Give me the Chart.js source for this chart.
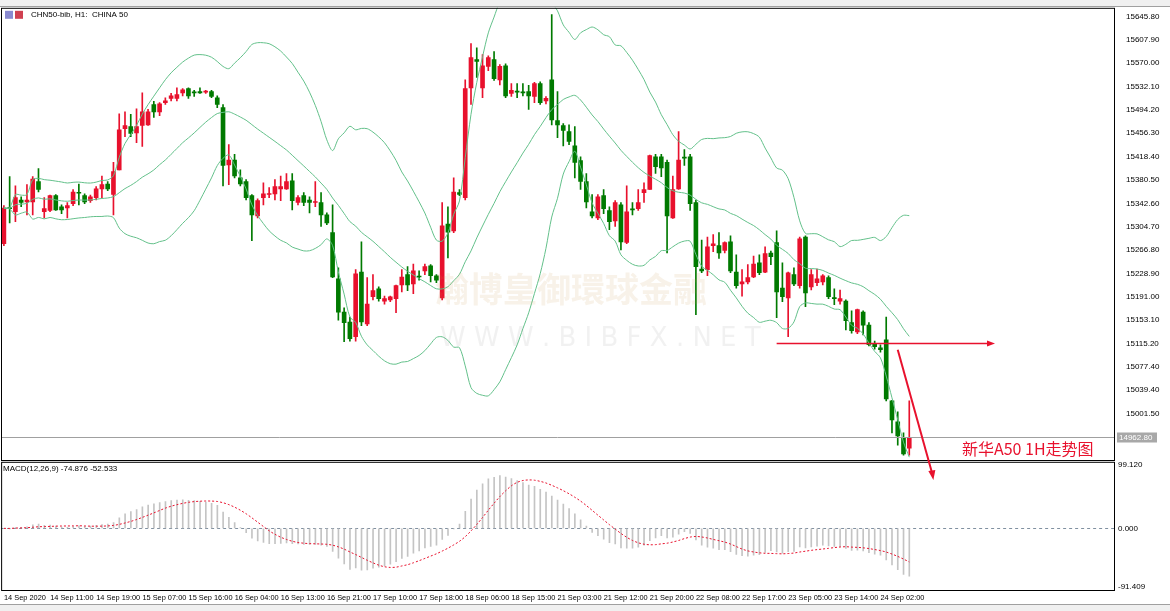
<!DOCTYPE html>
<html>
<head>
<meta charset="utf-8">
<script src="https://cdn.jsdelivr.net/npm/chart.js@4"></script>
<style>
  body { margin: 0; background: #fff; width: 1170px; height: 611px; overflow: hidden; position: relative; font-family: "Liberation Sans", sans-serif; }
  .pane { position: absolute; left: 0; }
  #footer { position: absolute; left: 0; top: 604px; width: 1170px; height: 7px; background: #f0f0f0; border-top: 1px solid #a0a0a0; }
</style>
</head>
<body>
<div class="pane" style="top:0;height:6px;width:1170px;background:#f0f0f0;border-bottom:1px solid #a0a0a0"></div>
<div class="pane" style="top:453px"><canvas id="macd" width="1170" height="151"></canvas></div>
<div class="pane" style="top:-1px;z-index:2"><canvas id="main" width="1170" height="486"></canvas></div>
<div id="footer"></div>
<script>
// CHINA 50, H1 candles (Chinese colours: red = up, green = down)
var opens = [15277,15335,15329,15348,15345,15345,15378,15329,15331,15355,15337,15335,15342,15360,15355,15347,15352,15366,15374,15357,
  15397,15464,15467,15457,15469,15470,15503,15491,15506,15513,15513,15522,15529,15523,15524,15523,15524,15514,15498,15405,
  15413,15384,15378,15355,15322,15352,15357,15358,15366,15366,15379,15344,15355,15348,15344,15344,15324,15295,15220,15166,
  15150,15126,15231,15147,15191,15204,15184,15186,15188,15210,15227,15212,15224,15233,15241,15225,15189,15309,15298,15360,
  15352,15530,15576,15530,15565,15576,15543,15566,15521,15524,15523,15524,15516,15537,15509,15543,15477,15469,15459,15436,
  15412,15378,15329,15319,15355,15331,15314,15340,15279,15333,15334,15360,15365,15418,15418,15409,15319,15366,15417,15418,
  15344,15236,15235,15274,15274,15266,15280,15231,15212,15215,15223,15246,15231,15262,15279,15205,15189,15227,15209,15288,
  15207,15214,15215,15222,15189,15184,15184,15149,15134,15166,15145,15114,15108,15121,15022,14988,14963,14945];
var highs = [15339,15386,15371,15353,15373,15386,15399,15352,15356,15357,15340,15344,15365,15374,15358,15356,15370,15387,15378,15409,
  15488,15491,15487,15496,15522,15495,15508,15506,15514,15521,15530,15529,15530,15526,15530,15526,15526,15517,15503,15438,
  15422,15397,15381,15357,15350,15376,15368,15381,15387,15391,15391,15355,15360,15353,15378,15360,15327,15340,15238,15173,
  15158,15235,15280,15222,15227,15207,15192,15192,15210,15235,15240,15244,15233,15244,15243,15227,15344,15337,15384,15365,
  15543,15602,15595,15584,15582,15589,15568,15569,15537,15537,15537,15534,15539,15540,15516,15649,15524,15472,15470,15467,
  15418,15391,15357,15357,15365,15337,15347,15344,15371,15344,15365,15376,15421,15422,15422,15413,15387,15459,15430,15422,
  15348,15283,15288,15292,15295,15280,15290,15259,15235,15243,15257,15259,15272,15265,15298,15246,15231,15238,15288,15290,
  15235,15236,15227,15225,15204,15202,15186,15168,15171,15168,15149,15119,15113,15158,15023,15004,14970,15022];
var lows = [15274,15311,15313,15337,15324,15324,15361,15319,15329,15331,15326,15319,15339,15340,15342,15344,15348,15352,15363,15324,
  15397,15451,15451,15441,15435,15469,15482,15485,15503,15509,15509,15517,15513,15516,15521,15521,15514,15498,15371,15373,
  15384,15371,15348,15282,15319,15340,15352,15348,15347,15365,15332,15340,15339,15327,15337,15305,15308,15222,15153,15118,
  15119,15119,15144,15144,15186,15184,15179,15183,15165,15199,15201,15196,15218,15227,15215,15214,15186,15254,15295,15355,
  15348,15503,15547,15514,15558,15542,15535,15514,15516,15514,15517,15495,15506,15503,15504,15470,15449,15436,15438,15384,
  15365,15335,15319,15316,15326,15300,15305,15267,15277,15324,15331,15344,15365,15391,15386,15262,15318,15365,15404,15331,
  15162,15230,15225,15264,15253,15262,15230,15205,15192,15212,15222,15227,15230,15243,15157,15183,15126,15209,15205,15175,
  15202,15209,15210,15188,15178,15179,15137,15132,15131,15129,15111,15106,15101,15022,14970,14950,14934,14934];
var closes = [15335,15334,15352,15344,15348,15382,15365,15334,15355,15332,15332,15339,15361,15359,15345,15353,15366,15373,15366,15394,
  15462,15469,15456,15467,15491,15491,15491,15504,15509,15517,15519,15527,15517,15522,15522,15524,15516,15503,15404,15413,
  15387,15374,15352,15324,15347,15358,15358,15370,15370,15378,15347,15352,15344,15344,15345,15324,15311,15223,15166,15149,
  15123,15228,15150,15179,15201,15188,15188,15191,15209,15223,15210,15233,15223,15240,15225,15218,15306,15296,15361,15357,
  15529,15579,15573,15566,15579,15545,15565,15517,15526,15523,15522,15517,15537,15506,15513,15478,15470,15461,15443,15409,
  15378,15345,15322,15353,15334,15313,15344,15280,15329,15332,15344,15365,15420,15402,15400,15322,15365,15413,15416,15342,
  15240,15233,15272,15277,15262,15279,15233,15209,15215,15222,15244,15230,15261,15256,15199,15191,15230,15212,15285,15197,
  15227,15220,15225,15191,15188,15188,15152,15136,15170,15145,15113,15110,15105,15025,14991,14965,14936,14962.8];

var priceTicks = [15645.80,15607.90,15570.00,15532.10,15494.20,15456.30,15418.40,15380.50,15342.60,15304.70,
  15266.80,15228.90,15191.00,15153.10,15115.20,15077.40,15039.40,15001.50];
var macdTicks = [99.120, 0.000, -91.409];
var timeTickIndex = [0,8,16,24,32,40,48,56,64,72,80,88,96,104,112,120,128,136,144,152];
var timeTickText = ['14 Sep 2020','14 Sep 11:00','14 Sep 19:00','15 Sep 07:00','15 Sep 16:00','16 Sep 04:00','16 Sep 13:00',
  '16 Sep 21:00','17 Sep 10:00','17 Sep 18:00','18 Sep 06:00','18 Sep 15:00','21 Sep 03:00','21 Sep 12:00','21 Sep 20:00',
  '22 Sep 08:00','22 Sep 17:00','23 Sep 05:00','23 Sep 14:00','24 Sep 02:00'];
var slots = 193;

var RED = '#e8112d', GREEN = '#007a00', BAND = '#63c08a';
var labels = [];
for (var i = 0; i < slots; i++) labels.push(i);

// bollinger bands (20, 2) from the closes
var mid = [], up = [], lo = [];
closes.forEach(function (c, i) {
  var w = closes.slice(Math.max(0, i - 19), i + 1);
  var m = w.reduce(function (a, b) { return a + b; }, 0) / w.length;
  var sd = Math.sqrt(w.reduce(function (a, b) { return a + (b - m) * (b - m); }, 0) / w.length);
  mid.push(m); up.push(m + 2 * sd); lo.push(m - 2 * sd);
});

// macd (12, 26, 9) from the closes
var e12 = closes[0], e26 = closes[0], macd = [], signal = [];
closes.forEach(function (c, i) {
  e12 = e12 + (c - e12) * 2 / 13;
  e26 = e26 + (c - e26) * 2 / 27;
  macd.push(e12 - e26);
  var w = macd.slice(Math.max(0, i - 8));
  signal.push(w.reduce(function (a, b) { return a + b; }, 0) / w.length);
});

var font8 = { family: 'Liberation Sans', size: 8 };
var font7 = { family: 'Liberation Sans', size: 7.4 };

var overlay = {
  id: 'overlay',
  afterDraw: function (chart) {
    var ctx = chart.ctx, a = chart.chartArea, x = chart.scales.x, y = chart.scales.y;
    ctx.save();
    // last price line and box
    var last = closes[closes.length - 1];
    var py = Math.round(y.getPixelForValue(last)) + 0.5;
    ctx.strokeStyle = '#a0a0a0'; ctx.lineWidth = 1;
    ctx.beginPath(); ctx.moveTo(a.left, py); ctx.lineTo(a.right, py); ctx.stroke();
    ctx.fillStyle = '#a8a8a8'; ctx.fillRect(a.right + 3, py - 5, 40, 10);
    ctx.fillStyle = '#fff'; ctx.font = '8px "Liberation Sans"'; ctx.textBaseline = 'middle';
    ctx.fillText(last.toFixed(2), a.right + 5, py);
    // frame
    ctx.strokeStyle = '#000';
    ctx.strokeRect(a.left + 0.5, a.top + 0.5, a.right - a.left, a.bottom - a.top);
    // title
    ctx.fillStyle = '#8a8ad0'; ctx.fillRect(5, a.top + 3, 8, 8);
    ctx.fillStyle = '#d04050'; ctx.fillRect(15, a.top + 3, 8, 8);
    ctx.fillStyle = '#000'; ctx.font = '8px "Liberation Sans"';
    ctx.fillText('CHN50-bib, H1:  CHINA 50', 31, a.top + 7);
    // red arrows
    ctx.strokeStyle = RED; ctx.fillStyle = RED; ctx.lineWidth = 1.5;
    var hy = y.getPixelForValue(15115.2), hx0 = x.getPixelForValue(134), hx1 = x.getPixelForValue(171);
    ctx.beginPath(); ctx.moveTo(hx0, hy); ctx.lineTo(hx1, hy); ctx.stroke();
    ctx.beginPath(); ctx.moveTo(hx1 + 5, hy); ctx.lineTo(hx1 - 3, hy - 3); ctx.lineTo(hx1 - 3, hy + 3); ctx.fill();
    var ax0 = x.getPixelForValue(155), ay0 = y.getPixelForValue(15105), ax1 = x.getPixelForValue(161), ay1 = a.bottom + 20;
    ctx.lineWidth = 2;
    ctx.beginPath(); ctx.moveTo(ax0, ay0); ctx.lineTo(ax1, ay1 - 6); ctx.stroke();
    ctx.beginPath(); ctx.moveTo(ax1 + 1, ay1); ctx.lineTo(ax1 - 4, ay1 - 9); ctx.lineTo(ax1 + 3, ay1 - 10); ctx.fill();
    // caption
    ctx.font = '16px "Noto Sans CJK SC"'; ctx.textBaseline = 'middle';
    ctx.fillText('新华A50 1H走势图', 962, a.bottom - 11);
    // watermark
    ctx.globalAlpha = 0.12; ctx.fillStyle = '#c8914a';
    ctx.font = 'bold 34px "Noto Sans CJK TC"'; ctx.fillText('瀚博皇御環球金融', 435, 290);
    ctx.fillStyle = '#888'; ctx.font = '26px "DejaVu Sans"';
    ctx.fillText('W W W . B I B F X . N E T', 440, 340);
    ctx.restore();
  }
};

new Chart(document.getElementById('main').getContext('2d'), {
  data: {
    labels: labels,
    datasets: [
      { type: 'line', data: up, borderColor: BAND, borderWidth: 1, pointRadius: 0, tension: 0.3 },
      { type: 'line', data: mid, borderColor: BAND, borderWidth: 1, pointRadius: 0, tension: 0.3 },
      { type: 'line', data: lo, borderColor: BAND, borderWidth: 1, pointRadius: 0, tension: 0.3 },
      { type: 'bar', grouped: false, barThickness: 1,
        data: lows.map(function (l, i) { return [l, highs[i]]; }),
        backgroundColor: closes.map(function (c, i) { return c >= opens[i] ? RED : GREEN; }) },
      { type: 'bar', grouped: false, barThickness: 4, minBarLength: 1,
        data: opens.map(function (o, i) { return [o, closes[i]]; }),
        backgroundColor: closes.map(function (c, i) { return c >= opens[i] ? RED : GREEN; }) }
    ]
  },
  options: {
    responsive: false, animation: false, devicePixelRatio: 1,
    layout: { padding: { left: 1, top: 0, bottom: 25, right: 0 } },
    plugins: { legend: { display: false }, tooltip: { enabled: false } },
    scales: {
      x: { display: false, offset: true },
      y: {
        position: 'right', min: 14926, max: 15660,
        afterBuildTicks: function (axis) { axis.ticks = priceTicks.map(function (v) { return { value: v }; }); },
        afterFit: function (axis) { axis.width = 56; },
        grid: { display: false },
        border: { display: false },
        ticks: { font: font8, color: '#000', padding: 4, callback: function (v) { return v.toFixed(2); } }
      }
    }
  },
  plugins: [overlay]
});

var macdFrame = {
  id: 'macdFrame',
  afterDraw: function (chart) {
    var ctx = chart.ctx, a = chart.chartArea;
    ctx.save();
    ctx.strokeStyle = '#000'; ctx.lineWidth = 1;
    ctx.strokeRect(a.left + 0.5, a.top + 0.5, a.right - a.left, a.bottom - a.top);
    ctx.fillStyle = '#000'; ctx.font = '8px "Liberation Sans"'; ctx.textBaseline = 'middle';
    ctx.fillText('MACD(12,26,9) -74.876 -52.533', 3, a.top + 7);
    ctx.restore();
  }
};

new Chart(document.getElementById('macd').getContext('2d'), {
  data: {
    labels: labels,
    datasets: [
      { type: 'line', data: signal, borderColor: RED, borderWidth: 1, borderDash: [2, 2], pointRadius: 0, tension: 0.3 },
      { type: 'bar', data: macd, backgroundColor: '#c4c4c4', barThickness: 1 }
    ]
  },
  options: {
    responsive: false, animation: false, devicePixelRatio: 1,
    layout: { padding: { left: 1, top: 0, bottom: 0, right: 0 } },
    plugins: { legend: { display: false }, tooltip: { enabled: false } },
    scales: {
      x: {
        offset: true,
        grid: { display: false, drawTicks: false },
        border: { display: false },
        afterFit: function (axis) { axis.height = 14; },
        ticks: {
          autoSkip: false, maxRotation: 0, align: 'start', padding: 4, font: font7, color: '#000',
          callback: function (v, i) { var k = timeTickIndex.indexOf(i); return k >= 0 ? timeTickText[k] : ''; }
        }
      },
      y: {
        position: 'right', min: -96.1, max: 103.8,
        afterBuildTicks: function (axis) { axis.ticks = macdTicks.map(function (v) { return { value: v }; }); },
        afterFit: function (axis) { axis.width = 56; },
        grid: {
          drawTicks: false,
          color: function (c) { return c.tick && c.tick.value === 0 ? '#8090a0' : 'rgba(0,0,0,0)'; }
        },
        border: { display: false, dash: [3, 3] },
        ticks: { font: font8, color: '#000', padding: 4, callback: function (v) { return v.toFixed(3); } }
      }
    }
  },
  plugins: [macdFrame]
});
</script>
</body>
</html>
